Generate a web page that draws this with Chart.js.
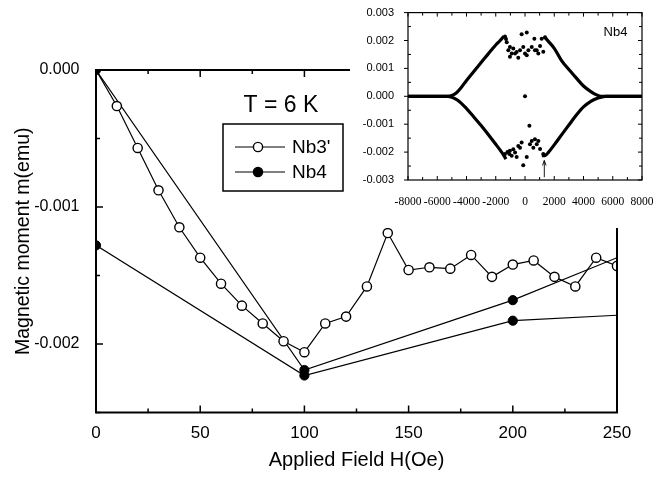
<!DOCTYPE html>
<html>
<head>
<meta charset="utf-8">
<script src="https://cdn.jsdelivr.net/npm/chart.js@4.4.0/dist/chart.umd.min.js"></script>
<style>
  html, body { margin: 0; padding: 0; background: #fff; }
  #wrap { position: relative; width: 672px; height: 478px; }
  #mainChart { position: absolute; left: 0; top: 0; }
  #insetBox { position: absolute; left: 350px; top: 0; width: 322px; height: 228px; background: #fff; }
</style>
</head>
<body>
<div id="wrap">
  <canvas id="mainChart" width="672" height="478"></canvas>
  <div id="insetBox"><canvas id="insetChart" width="322" height="228"></canvas></div>
</div>
<script>
// main plot: moment vs applied field at 6 K
const seriesNames = ["Nb3'", 'Nb4'];
const fieldNb3 = [0, 10, 20, 30, 40, 50, 60, 70, 80, 90, 100, 110, 120, 130, 140, 150, 160, 170, 180, 190, 200, 210, 220, 230, 240, 250];
const momentNb3 = [0, -0.000263, -0.000569, -0.000878, -0.001148, -0.00137, -0.00156, -0.00172, -0.00185, -0.00198, -0.00206,
  -0.00185, -0.0018, -0.00158, -0.00119, -0.00146, -0.00144, -0.00145, -0.00135, -0.00151, -0.00142, -0.00139, -0.00151, -0.00158, -0.00137, -0.00143];
const fieldNb4a = [0, 100, 200, 250];
const momentNb4a = [0, -0.00219, -0.00168, -0.00137];
const fieldNb4b = [0, 100, 200, 250];
const momentNb4b = [-0.00128, -0.00223, -0.00183, -0.00179];
const xTicks = [0, 50, 100, 150, 200, 250];
const yTicks = [-0.002, -0.001, 0];
const tempLabel = 'T = 6 K';

// inset: full hysteresis loop of Nb4
const upLeftH = [-8000, -7000, -6000, -5300, -5000, -4700, -4400, -4000, -3500, -3000, -2500, -2000, -1700, -1450];
const upLeftM = [0, 0, 0, 0, 0.00003, 0.00012, 0.00029, 0.00057, 0.00089, 0.00121, 0.00153, 0.00184, 0.002, 0.00215];
const lowLeftH = [-8000, -7000, -6000, -5300, -5000, -4600, -4000, -3500, -3000, -2500, -2000, -1600, -1300];
const lowLeftM = [0, 0, 0, 0, -0.00003, -0.00014, -0.00044, -0.00074, -0.00105, -0.00138, -0.00172, -0.002, -0.00225];
const upRightH = [1300, 1600, 2000, 2500, 3000, 3500, 4000, 4500, 4900, 5200, 6000, 7000, 8000];
const upRightM = [0.00214, 0.00197, 0.00172, 0.00128, 0.00096, 0.00066, 0.00037, 0.00017, 0.00005, 0, 0, 0, 0];
const lowRightH = [1150, 1400, 1600, 2000, 2600, 3000, 3500, 4000, 4500, 5000, 5500, 6000, 7000, 8000];
const lowRightM = [-0.00213, -0.00211, -0.00201, -0.00174, -0.00131, -0.00103, -0.00068, -0.00038, -0.00018, -0.00006, 0, 0, 0, 0];
const scatUpH = [-1370, -1300, -1250, -1140, -1030, -1030, -910, -800, -680, -570, -460, -340, -230, -120, 0, 120, 120, 230, 460, 640, 680, 800, 910, 1030, 1140, 1250, 1370];
const scatUpM = [0.00214, 0.00205, 0.00194, 0.00165, 0.00177, 0.00142, 0.00153, 0.00171, 0.00153, 0.00159, 0.00138, 0.00165, 0.00222, 0.00177,
  0.00153, 0.00229, 0.00147, 0.00165, 0.00177, 0.00206, 0.00165, 0.00165, 0.00153, 0.0018, 0.00206, 0.0016, 0.00212];
const scatMidH = [0, 300];
const scatMidM = [0, -0.00106];
const scatLowH = [-1370, -1200, -1070, -1030, -910, -800, -680, -570, -460, -340, -230, -120, 120, 340, 460, 570, 680, 800, 910, 1030, 1250];
const scatLowM = [-0.00207, -0.002, -0.00207, -0.00195, -0.00213, -0.0019, -0.00201, -0.00218, -0.00178, -0.00184, -0.00166, -0.00247,
  -0.00218, -0.00172, -0.0016, -0.00184, -0.00154, -0.00172, -0.0016, -0.00189, -0.00207];
const insetXTicks = [-8000, -6000, -4000, -2000, 0, 2000, 4000, 6000, 8000];
const insetYTicks = [-0.003, -0.002, -0.001, 0, 0.001, 0.002, 0.003];
const insetLabel = 'Nb4';
const arrowField = 1320, arrowFrom = -0.0029, arrowTo = -0.0023;

Chart.defaults.font.family = "'Liberation Sans', Arial, sans-serif";
Chart.defaults.color = '#000';

function pts(xs, ys) { return xs.map((x, i) => ({ x: x, y: ys[i] })); }

function line(ctx, x1, y1, x2, y2) {
  ctx.beginPath(); ctx.moveTo(x1, y1); ctx.lineTo(x2, y2); ctx.stroke();
}

const mainDecor = {
  id: 'mainDecor',
  afterDraw(chart) {
    const ctx = chart.ctx, a = chart.chartArea, xs = chart.scales.x, ys = chart.scales.y;
    ctx.save();
    ctx.strokeStyle = '#000';
    ctx.lineWidth = 1.5;
    for (let i = 0; i <= 10; i++) {
      const px = xs.getPixelForValue(i * 25), len = i % 2 === 0 ? 7 : 4;
      line(ctx, px, a.bottom, px, a.bottom - len);
      line(ctx, px, a.top, px, a.top + len);
    }
    for (let i = 0; i <= 5; i++) {
      const py = ys.getPixelForValue(-i * 0.0005), len = i % 2 === 0 ? 7 : 4;
      line(ctx, a.left, py, a.left + len, py);
    }
    ctx.lineWidth = 2;
    ctx.strokeRect(a.left, a.top, a.right - a.left, a.bottom - a.top);

    // temperature label
    ctx.fillStyle = '#000';
    ctx.font = "23px 'Liberation Sans', Arial, sans-serif";
    ctx.textAlign = 'center';
    ctx.textBaseline = 'middle';
    ctx.fillText(tempLabel, 281, 106);

    // legend box
    ctx.lineWidth = 1.5;
    ctx.strokeRect(223, 124, 120, 67);
    ctx.lineWidth = 1.2;
    ctx.font = "19px 'Liberation Sans', Arial, sans-serif";
    ctx.textAlign = 'left';
    const rows = [147, 172];
    rows.forEach((y, i) => {
      line(ctx, 235, y, 285, y);
      ctx.beginPath();
      ctx.arc(258, y, 4.6, 0, Math.PI * 2);
      ctx.fillStyle = i === 0 ? '#fff' : '#000';
      ctx.fill();
      ctx.lineWidth = 1.4;
      ctx.stroke();
      ctx.lineWidth = 1.2;
      ctx.fillStyle = '#000';
      ctx.fillText(seriesNames[i], 292, y + 1);
    });
    ctx.restore();
  }
};

new Chart(document.getElementById('mainChart'), {
  type: 'scatter',
  data: {
    datasets: [
      {
        label: seriesNames[0], data: pts(fieldNb3, momentNb3), showLine: true,
        borderColor: '#000', borderWidth: 1.2,
        pointRadius: c => c.dataIndex === 0 ? 0 : 4.6,
        pointBackgroundColor: '#fff', pointBorderColor: '#000', pointBorderWidth: 1.4
      },
      {
        label: seriesNames[1], data: pts(fieldNb4a, momentNb4a), showLine: true,
        borderColor: '#000', borderWidth: 1.2,
        pointRadius: c => c.raw.x >= 250 ? 0 : 4.6,
        pointBackgroundColor: '#000', pointBorderColor: '#000', pointBorderWidth: 1
      },
      {
        label: seriesNames[1], data: pts(fieldNb4b, momentNb4b), showLine: true,
        borderColor: '#000', borderWidth: 1.2,
        pointRadius: c => c.raw.x >= 250 ? 0 : 4.6,
        pointBackgroundColor: '#000', pointBorderColor: '#000', pointBorderWidth: 1
      }
    ]
  },
  options: {
    responsive: false,
    animation: false,
    devicePixelRatio: 1,
    layout: { padding: { top: 70, right: 55, bottom: 1, left: 10 } },
    plugins: { legend: { display: false }, tooltip: { enabled: false } },
    scales: {
      x: {
        type: 'linear', min: 0, max: 250,
        afterBuildTicks: s => { s.ticks = xTicks.map(v => ({ value: v })); },
        afterFit: s => { s.height = 64.5; },
        ticks: { font: { size: 17 }, padding: 3, color: '#000', maxRotation: 0, autoSkip: false },
        grid: { display: false },
        border: { display: false },
        title: { display: true, text: 'Applied Field H(Oe)', font: { size: 20 }, color: '#000', padding: { top: 4, bottom: 5 } }
      },
      y: {
        type: 'linear', min: -0.0025, max: 0,
        afterBuildTicks: s => { s.ticks = yTicks.map(v => ({ value: v })); },
        afterFit: s => { s.width = 86; },
        ticks: { font: { size: 16 }, padding: 8.5, color: '#000', callback: v => v.toFixed(3) },
        grid: { display: false },
        border: { display: false },
        title: { display: true, text: 'Magnetic moment m(emu)', font: { size: 19.5 }, color: '#000', padding: { top: 2, bottom: 0 } }
      }
    }
  },
  plugins: [mainDecor]
});

const insetDecor = {
  id: 'insetDecor',
  afterDraw(chart) {
    const ctx = chart.ctx, a = chart.chartArea, xs = chart.scales.x, ys = chart.scales.y;
    ctx.save();
    ctx.strokeStyle = '#000';
    ctx.lineWidth = 1;
    for (let v = -8000; v <= 8000; v += 1000) {
      const px = xs.getPixelForValue(v), len = v % 2000 === 0 ? 4 : 3;
      line(ctx, px, a.bottom, px, a.bottom - len);
      line(ctx, px, a.top, px, a.top + len);
    }
    for (let i = -6; i <= 6; i++) {
      const py = ys.getPixelForValue(i * 0.0005);
      if (i % 2 === 0) {
        line(ctx, a.left - 4, py, a.left, py);
        line(ctx, a.right, py, a.right - 4, py);
      } else {
        line(ctx, a.left, py, a.left + 3, py);
        line(ctx, a.right, py, a.right - 3, py);
      }
    }
    ctx.lineWidth = 1.2;
    ctx.strokeRect(a.left, a.top, a.right - a.left, a.bottom - a.top);

    // arrow under the low-field kink
    const ax = xs.getPixelForValue(arrowField);
    const y1 = ys.getPixelForValue(arrowFrom), y2 = ys.getPixelForValue(arrowTo);
    ctx.lineWidth = 0.9;
    line(ctx, ax, y1, ax, y2);
    line(ctx, ax, y2, ax - 1.8, y2 + 5);
    line(ctx, ax, y2, ax + 1.8, y2 + 5);

    ctx.fillStyle = '#000';
    ctx.font = "13px 'Liberation Sans', Arial, sans-serif";
    ctx.textAlign = 'center';
    ctx.textBaseline = 'middle';
    ctx.fillText(insetLabel, 265.5, 32);
    ctx.restore();
  }
};

function branch(xs, ys) {
  return {
    data: pts(xs, ys), showLine: true, borderColor: '#000', borderWidth: 3.2,
    pointRadius: 0, cubicInterpolationMode: 'monotone'
  };
}
function dots(xs, ys) {
  return {
    data: pts(xs, ys), showLine: false, pointRadius: 2,
    pointBackgroundColor: '#000', pointBorderColor: '#000', pointBorderWidth: 0
  };
}

new Chart(document.getElementById('insetChart'), {
  type: 'scatter',
  data: {
    datasets: [
      branch(upLeftH, upLeftM),
      branch(lowLeftH, lowLeftM),
      branch(upRightH, upRightM),
      branch(lowRightH, lowRightM),
      dots(scatUpH, scatUpM),
      dots(scatMidH, scatMidM),
      dots(scatLowH, scatLowM)
    ]
  },
  options: {
    responsive: false,
    animation: false,
    devicePixelRatio: 1,
    layout: { padding: { top: 7, right: 30, bottom: 0, left: 0 } },
    plugins: { legend: { display: false }, tooltip: { enabled: false } },
    scales: {
      x: {
        type: 'linear', min: -8000, max: 8000,
        afterBuildTicks: s => { s.ticks = insetXTicks.map(v => ({ value: v })); },
        afterFit: s => { s.height = 48; },
        ticks: {
          font: { family: "'Liberation Serif', 'Times New Roman', serif", size: 11.5 }, padding: 7, color: '#000',
          maxRotation: 0, minRotation: 0, autoSkip: false, callback: v => String(v)
        },
        grid: { display: false },
        border: { display: false }
      },
      y: {
        type: 'linear', min: -0.003, max: 0.003,
        afterBuildTicks: s => { s.ticks = insetYTicks.map(v => ({ value: v })); },
        afterFit: s => { s.width = 58; },
        ticks: { font: { size: 11 }, padding: 6, color: '#000', callback: v => v.toFixed(3) },
        grid: { display: false },
        border: { display: false }
      }
    }
  },
  plugins: [insetDecor]
});
</script>
</body>
</html>
